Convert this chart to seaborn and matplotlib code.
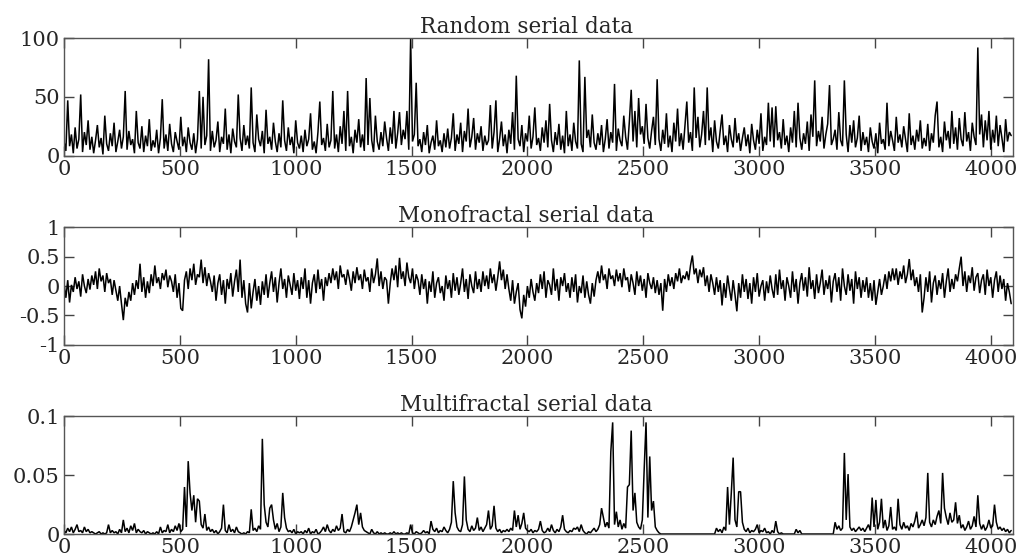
import numpy as np
import pandas as pd
import matplotlib
matplotlib.use('Agg')
import matplotlib.pyplot as plt
import seaborn as sns

# values every 8 samples
step = 8

# Random serial data (0..100)
random_vals = [
    12, 4, 47, 8, 18, 2, 24, 6, 14, 52, 3, 20, 9, 30, 5, 16,
    2, 13, 26, 7, 15, 1, 34, 10, 4, 19, 8, 28, 3, 12, 22, 6,
    16, 55, 5, 21, 9, 14, 2, 38, 11, 6, 25, 3, 17, 8, 31, 4,
    13, 7, 22, 2, 15, 48, 6, 18, 4, 27, 10, 3, 20, 12, 5, 33,
    8, 16, 3, 24, 11, 5, 19, 2, 14, 55, 6, 50, 9, 17, 82, 4,
    21, 7, 13, 29, 3, 16, 10, 40, 5, 18, 2, 23, 12, 7, 52, 15,
    4, 26, 9, 17, 6, 58, 11, 3, 35, 14, 8, 21, 2, 39, 10, 16,
    5, 28, 12, 3, 19, 7, 47, 13, 4, 24, 9, 16, 2, 30, 11, 6,
    17, 3, 22, 8, 14, 36, 5, 12, 2, 20, 46, 9, 15, 4, 27, 7,
    13, 55, 6, 18, 3, 25, 10, 38, 4, 55, 8, 16, 2, 22, 11, 31,
    7, 18, 4, 66, 9, 49, 13, 3, 34, 12, 5, 20, 8, 29, 15, 4,
    24, 10, 38, 6, 19, 37, 9, 22, 14, 38, 5, 100, 12, 18, 62, 8,
    14, 3, 20, 9, 26, 2, 11, 17, 5, 30, 8, 13, 3, 19, 7, 23,
    6, 15, 36, 4, 18, 10, 28, 3, 21, 12, 40, 7, 16, 32, 5, 19,
    11, 25, 4, 17, 9, 13, 43, 6, 20, 47, 3, 14, 29, 8, 18, 2,
    22, 10, 37, 5, 68, 14, 8, 26, 3, 19, 12, 34, 6, 16, 41, 9,
    15, 4, 24, 11, 30, 7, 44, 13, 3, 20, 9, 27, 5, 17, 2, 38,
    8, 18, 4, 28, 12, 6, 81, 10, 3, 67, 15, 22, 7, 35, 11, 5,
    19, 9, 26, 3, 14, 31, 6, 20, 11, 61, 4, 23, 13, 8, 34, 16,
    5, 29, 56, 12, 38, 7, 49, 18, 25, 10, 44, 15, 6, 21, 33, 9,
    65, 14, 4, 22, 10, 36, 7, 17, 3, 28, 12, 40, 8, 19, 5, 26,
    46, 11, 20, 4, 58, 15, 33, 7, 18, 38, 9, 58, 13, 24, 3, 30,
    12, 6, 21, 35, 9, 17, 3, 26, 14, 7, 32, 11, 19, 4, 15, 24,
    8, 18, 2, 27, 13, 5, 22, 10, 36, 4, 16, 9, 45, 12, 41, 7,
    42, 13, 20, 6, 31, 9, 17, 3, 24, 11, 38, 7, 45, 15, 5, 19,
    10, 29, 4, 35, 16, 64, 8, 21, 12, 33, 6, 18, 27, 60, 9, 14,
    22, 5, 37, 13, 8, 64, 18, 3, 26, 11, 30, 7, 15, 34, 4, 20,
    9, 16, 3, 24, 12, 6, 19, 2, 28, 10, 14, 5, 45, 8, 21, 13,
    4, 33, 11, 18, 7, 25, 14, 3, 36, 9, 17, 5, 22, 12, 30, 6,
    15, 8, 27, 4, 19, 11, 34, 46, 7, 16, 3, 29, 13, 21, 6, 38,
    10, 24, 5, 32, 14, 8, 37, 12, 20, 4, 28, 16, 9, 92, 18, 35,
    7, 30, 13, 38, 5, 22, 11, 34, 8, 26, 15, 3, 31, 12, 20, 17,
]

# Monofractal serial data (-1..1)
mono_vals = [
    0.05, -0.2, 0.1, -0.28, 0.02, -0.1, 0.15, -0.05, 0.08, -0.18, 0.2, 0.0, -0.12, 0.12, -0.06, 0.18,
    0.02, 0.25, -0.05, 0.3, 0.08, 0.18, -0.1, 0.22, 0.05, 0.12, -0.15, 0.1, -0.08, -0.25, 0.0, -0.3,
    -0.58, -0.2, -0.35, -0.1, -0.25, 0.05, -0.15, 0.1, -0.05, 0.38, -0.1, 0.15, -0.2, 0.08, -0.12, 0.2,
    0.0, 0.35, 0.05, 0.15, -0.05, 0.22, 0.1, 0.28, -0.02, 0.18, 0.08, -0.1, 0.2, -0.2, 0.05, -0.38,
    -0.42, 0.1, 0.25, -0.05, 0.3, 0.1, 0.38, 0.02, 0.2, 0.15, 0.45, 0.05, 0.32, 0.0, 0.22, 0.08,
    -0.1, 0.18, -0.25, 0.05, 0.2, -0.15, 0.1, -0.3, 0.12, -0.05, 0.22, -0.18, 0.08, 0.28, -0.1, 0.45,
    -0.2, 0.1, -0.3, -0.45, 0.05, -0.38, -0.1, 0.12, -0.25, 0.0, -0.32, 0.08, -0.15, 0.2, -0.2, 0.05,
    0.25, -0.1, 0.15, -0.28, 0.05, 0.3, -0.05, 0.12, -0.2, 0.18, 0.02, -0.15, 0.22, -0.08, 0.1, -0.22,
    0.15, -0.05, 0.3, -0.2, 0.1, -0.3, 0.05, 0.2, -0.12, 0.28, -0.05, 0.12, -0.25, 0.15, 0.0, 0.22,
    0.05, 0.3, 0.1, 0.25, -0.05, 0.35, 0.15, 0.2, 0.02, 0.28, 0.12, -0.08, 0.25, 0.05, 0.32, 0.1,
    0.2, -0.05, 0.28, 0.08, 0.15, -0.1, 0.3, 0.05, 0.2, 0.47, 0.0, 0.25, -0.05, 0.15, 0.1, -0.3,
    0.05, 0.3, 0.1, 0.35, -0.02, 0.48, 0.12, 0.25, 0.0, 0.4, 0.15, 0.05, 0.3, -0.05, 0.2, 0.1,
    -0.15, 0.2, -0.05, 0.12, -0.3, 0.08, -0.1, 0.25, -0.2, 0.05, 0.15, -0.12, 0.0, -0.25, 0.18, -0.05,
    0.1, -0.2, 0.22, -0.08, 0.15, -0.15, 0.05, 0.3, -0.1, 0.12, -0.22, 0.2, 0.0, -0.12, 0.25, -0.05,
    0.12, -0.1, 0.25, 0.0, 0.18, -0.05, 0.3, 0.05, 0.2, -0.08, 0.15, 0.42, 0.1, 0.28, -0.05, 0.2,
    -0.05, -0.25, 0.1, -0.3, -0.1, 0.05, -0.4, -0.55, -0.15, -0.35, 0.0, -0.2, 0.12, -0.1, -0.25, 0.05,
    -0.12, 0.2, -0.05, 0.25, -0.2, 0.1, 0.02, -0.15, 0.3, -0.08, 0.12, -0.25, 0.15, 0.0, 0.22, -0.1,
    0.05, -0.2, 0.15, -0.1, 0.2, -0.28, 0.0, -0.12, 0.18, -0.2, 0.08, -0.15, -0.3, 0.05, -0.18, 0.1,
    0.25, 0.05, 0.35, 0.1, 0.2, -0.05, 0.3, 0.12, 0.18, 0.0, 0.28, 0.08, 0.22, -0.02, 0.3, 0.1,
    0.15, -0.1, 0.2, 0.05, -0.15, 0.25, 0.0, 0.18, -0.08, 0.12, -0.2, 0.22, 0.05, -0.05, 0.15, -0.12,
    0.1, -0.15, 0.05, -0.42, 0.12, -0.1, 0.2, 0.0, 0.15, -0.05, 0.22, 0.08, 0.3, 0.05, 0.18, 0.12,
    0.25, 0.1, 0.35, 0.52, 0.2, 0.3, 0.05, 0.28, 0.15, 0.32, 0.0, 0.18, -0.1, 0.2, 0.05, -0.15,
    0.15, -0.1, 0.1, -0.33, 0.05, -0.2, 0.18, -0.05, -0.25, 0.1, -0.15, -0.43, 0.05, -0.2, 0.2, -0.1,
    0.12, -0.22, 0.05, -0.3, 0.15, -0.1, 0.22, -0.18, 0.0, 0.1, -0.25, 0.08, -0.12, 0.18, -0.05, -0.2,
    0.2, -0.15, 0.28, -0.05, 0.1, -0.25, 0.15, 0.0, -0.2, 0.25, -0.1, 0.12, -0.3, 0.05, 0.22, -0.08,
    0.15, -0.18, 0.32, -0.05, 0.1, -0.22, 0.2, -0.12, 0.05, 0.28, -0.15, 0.1, -0.05, 0.18, -0.28, 0.08,
    0.22, -0.1, 0.15, -0.25, 0.3, 0.0, -0.15, 0.2, -0.08, 0.12, -0.3, 0.25, -0.05, 0.15, -0.2, 0.1,
    -0.1, 0.15, -0.2, 0.05, -0.25, 0.1, -0.32, -0.1, 0.12, -0.15, 0.0, 0.2, -0.05, 0.25, 0.08, 0.3,
    0.1, 0.3, 0.02, 0.25, 0.12, 0.35, 0.05, 0.2, 0.46, 0.1, 0.28, 0.0, 0.15, -0.1, 0.2, -0.45,
    -0.2, 0.15, -0.1, 0.25, -0.28, 0.05, 0.18, -0.15, 0.1, -0.05, 0.22, -0.2, 0.08, 0.3, -0.1, 0.12,
    -0.05, 0.2, 0.08, 0.3, 0.5, 0.0, 0.25, -0.1, 0.18, 0.05, 0.32, -0.08, 0.15, 0.22, -0.12, 0.1,
    0.2, -0.15, 0.28, 0.0, 0.15, -0.2, 0.1, 0.25, -0.1, 0.18, -0.05, 0.12, -0.25, 0.05, -0.1, -0.3,
]

# Multifractal serial data, in thousandths (0..0.1)
multi_vals = [
    3, 1, 5, 2, 6, 1, 4, 8, 2, 3, 1, 6, 2, 4, 1, 2,
    1, 0, 1, 2, 0, 1, 0, 1, 8, 1, 3, 1, 2, 0, 4, 1,
    12, 2, 5, 1, 7, 3, 9, 1, 4, 2, 1, 3, 0, 2, 1, 0,
    1, 0, 2, 0, 6, 1, 3, 2, 8, 1, 4, 2, 7, 3, 9, 2,
    4, 40, 6, 62, 35, 20, 33, 10, 30, 28, 8, 5, 17, 3, 6, 2,
    4, 1, 3, 0, 2, 5, 25, 3, 1, 8, 2, 4, 1, 6, 2, 1,
    0, 1, 0, 2, 1, 21, 3, 5, 2, 7, 4, 81, 25, 10, 6, 22,
    25, 12, 4, 9, 2, 6, 35, 14, 5, 2, 3, 1, 4, 0, 2, 1,
    2, 0, 3, 1, 5, 0, 2, 1, 4, 0, 1, 3, 6, 2, 8, 3,
    1, 4, 2, 7, 3, 5, 17, 2, 1, 4, 2, 6, 12, 18, 25, 8,
    18, 6, 3, 2, 1, 0, 4, 1, 0, 2, 0, 1, 0, 1, 0, 0,
    1, 0, 2, 0, 1, 0, 1, 0, 0, 1, 0, 8, 1, 0, 2, 1,
    0, 1, 3, 1, 2, 0, 11, 4, 2, 5, 1, 3, 2, 6, 3, 1,
    4, 10, 45, 18, 6, 3, 2, 8, 49, 12, 4, 2, 7, 3, 5, 14,
    3, 6, 2, 5, 8, 20, 4, 7, 24, 5, 2, 4, 1, 3, 2, 4,
    2, 5, 3, 20, 6, 16, 4, 9, 18, 5, 3, 2, 4, 1, 3, 2,
    4, 11, 3, 1, 2, 5, 2, 8, 3, 1, 4, 2, 6, 16, 4, 2,
    1, 3, 2, 5, 4, 6, 2, 8, 3, 1, 0, 2, 1, 3, 5, 2,
    4, 8, 22, 14, 6, 10, 5, 70, 95, 8, 19, 6, 12, 4, 9, 5,
    40, 42, 88, 20, 35, 10, 6, 4, 12, 55, 95, 14, 66, 20, 28, 6,
    3, 1, 0, 0, 0, 0, 0, 0, 0, 0, 0, 0, 0, 0, 0, 0,
    0, 0, 0, 0, 0, 0, 0, 0, 0, 0, 0, 0, 0, 0, 0, 0,
    5, 2, 4, 1, 6, 3, 40, 8, 35, 65, 12, 6, 36, 36, 10, 4,
    2, 5, 1, 3, 2, 4, 8, 1, 3, 2, 5, 1, 2, 0, 3, 1,
    11, 2, 0, 1, 0, 0, 0, 0, 0, 0, 0, 4, 1, 3, 0, 0,
    0, 0, 0, 0, 0, 0, 0, 0, 0, 0, 0, 0, 0, 0, 0, 0,
    10, 4, 7, 3, 5, 69, 12, 51, 6, 3, 5, 2, 4, 6, 3, 5,
    2, 5, 8, 3, 31, 6, 29, 4, 10, 30, 5, 12, 3, 7, 23, 4,
    6, 3, 30, 8, 4, 10, 5, 7, 3, 9, 6, 11, 19, 5, 8, 12,
    7, 14, 52, 10, 6, 12, 8, 15, 20, 9, 52, 22, 14, 8, 18, 10,
    12, 27, 9, 16, 5, 8, 3, 6, 11, 4, 7, 15, 6, 33, 9, 4,
    8, 3, 6, 12, 5, 7, 25, 10, 4, 6, 3, 5, 2, 4, 1, 3,
]

titles = ['Random serial data', 'Monofractal serial data', 'Multifractal serial data']
xticks = [0, 500, 1000, 1500, 2000, 2500, 3000, 3500, 4000]
yticks = [[0, 50, 100], [-1, -0.5, 0, 0.5, 1], [0, 0.05, 0.1]]
yticklabels = [['0', '50', '100'], ['-1', '-0.5', '0', '0.5', '1'], ['0', '0.05', '0.1']]
ylims = [(0, 100), (-1, 1), (0, 0.1)]

series = [np.array(random_vals, dtype=float),
          np.array(mono_vals, dtype=float),
          np.array(multi_vals, dtype=float) / 1000]

sns.set_theme(style="ticks")
plt.rcParams['font.family'] = ['DejaVu Serif']
plt.rcParams['axes.unicode_minus'] = False

fig, axes = plt.subplots(3, 1, figsize=(10.21, 5.6), dpi=100)
fig.subplots_adjust(left=0.0627, right=0.9922, top=0.932, bottom=0.0464, hspace=0.61)

for ax, vals, title, yt, ytl, yl in zip(axes, series, titles, yticks, yticklabels, ylims):
    df = pd.DataFrame({'x': np.arange(len(vals)) * step, 'y': vals})
    sns.lineplot(data=df, x='x', y='y', ax=ax, color='black', linewidth=1.1,
                 estimator=None, solid_joinstyle='bevel')
    ax.set_xlim(0, 4096)
    ax.set_ylim(*yl)
    ax.set_xticks(xticks)
    ax.set_xticklabels([str(t) for t in xticks])
    ax.set_yticks(yt)
    ax.set_yticklabels(ytl)
    ax.set_xlabel('')
    ax.set_ylabel('')
    ax.tick_params(direction='in', top=True, right=True, length=7, width=1,
                   color='#444444', labelsize=15, pad=3)
    for s in ax.spines.values():
        s.set_color('#555555')
        s.set_linewidth(1)
    ax.set_title(title, fontsize=15.5, x=0.487, pad=4)

fig.savefig('out.png', dpi=100)
